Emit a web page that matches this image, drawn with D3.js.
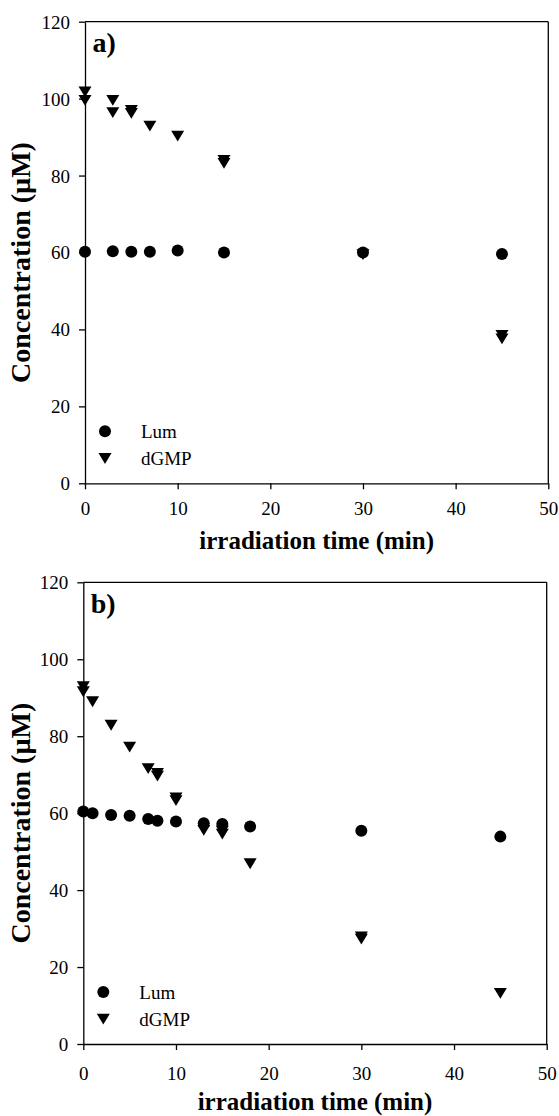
<!DOCTYPE html>
<html>
<head>
<meta charset="utf-8">
<script src="https://cdn.jsdelivr.net/npm/d3@7"></script>
<style>
  html, body { margin: 0; padding: 0; background: #fff; }
  svg { display: block; }
  text { font-family: "Liberation Serif", "Times New Roman", serif; fill: #000; }
</style>
</head>
<body>
<svg id="chart" width="559" height="1116"></svg>
<script>
// ---- data ----
const xTicks = [0, 10, 20, 30, 40, 50];
const yTicks = [0, 20, 40, 60, 80, 100, 120];
const seriesNames = ["Lum", "dGMP"];

// panel a
const aLumTime = [0, 3, 5, 7, 10, 15, 30, 45];
const aLumConc = [60.2, 60.3, 60.2, 60.2, 60.5, 60.0, 60.0, 59.6];
const aDgmpTime = [0, 0, 3, 3, 5, 5, 7, 10, 15, 15, 30, 45, 45];
const aDgmpConc = [101.8, 99.6, 99.6, 96.4, 97.0, 96.2, 92.9, 90.3, 84.0, 83.2, 59.5, 38.5, 37.6];

// panel b
const bLumTime = [0, 1, 3, 5, 7, 8, 10, 13, 15, 18, 30, 45];
const bLumConc = [60.4, 60.0, 59.5, 59.3, 58.5, 58.0, 57.8, 57.4, 57.2, 56.5, 55.4, 53.9];
const bDgmpTime = [0, 0, 1, 3, 5, 7, 8, 8, 10, 10, 13, 15, 15, 18, 30, 30, 45];
const bDgmpConc = [92.9, 91.6, 89.0, 82.9, 77.2, 71.6, 70.4, 69.7, 64.0, 63.3, 55.6, 55.4, 54.6, 46.9, 27.9, 27.3, 13.2];

const panels = [
  { label: "a)", left: 85, right: 548.3, top: 21.7, bottom: 483.3, tickOff: 28,
    lum: aLumTime.map((t, i) => ({ t, c: aLumConc[i] })),
    dgmp: aDgmpTime.map((t, i) => ({ t, c: aDgmpConc[i] })) },
  { label: "b)", left: 83.3, right: 546.7, top: 582.3, bottom: 1044, tickOff: 33,
    lum: bLumTime.map((t, i) => ({ t, c: bLumConc[i] })),
    dgmp: bDgmpTime.map((t, i) => ({ t, c: bDgmpConc[i] })) }
];

const svg = d3.select("#chart");
const tri = "M-6.5,-5.2L6.5,-5.2L0,5.6Z";

panels.forEach(p => {
  const x = d3.scaleLinear().domain([0, 50]).range([p.left, p.right]);
  const y = d3.scaleLinear().domain([0, 120]).range([p.bottom, p.top]);
  const g = svg.append("g");

  // box (top & right)
  g.append("line").attr("x1", p.left).attr("x2", p.right).attr("y1", p.top).attr("y2", p.top)
    .attr("stroke", "#000").attr("stroke-width", 1.3);
  g.append("line").attr("x1", p.right).attr("x2", p.right).attr("y1", p.top).attr("y2", p.bottom)
    .attr("stroke", "#000").attr("stroke-width", 1.3);

  // axes
  const xa = g.append("g").attr("transform", `translate(0,${p.bottom})`)
    .call(d3.axisBottom(x).tickValues(xTicks).tickSize(6).tickSizeOuter(0).tickPadding(p.tickOff - 16));
  const ya = g.append("g").attr("transform", `translate(${p.left},0)`)
    .call(d3.axisLeft(y).tickValues(yTicks).tickSize(6).tickSizeOuter(0).tickPadding(9));
  [xa, ya].forEach(a => {
    a.attr("font-family", null);
    a.select(".domain").attr("stroke", "#000").attr("stroke-width", 1.3);
    a.selectAll(".tick line").attr("stroke", "#000").attr("stroke-width", 1.3);
    a.selectAll(".tick text").attr("font-size", 19)
      .style("font-family", '"Liberation Serif", "Times New Roman", serif').attr("fill", "#000");
  });
  ya.selectAll(".tick text").attr("dy", "0.34em");

  // axis titles
  g.append("text").attr("x", (p.left + p.right) / 2).attr("y", p.bottom + 66)
    .attr("text-anchor", "middle").attr("font-size", 25).attr("font-weight", "bold")
    .text("irradiation time (min)");
  g.append("text").attr("transform", `translate(30,${(p.top + p.bottom) / 2 + 10}) rotate(-90)`)
    .attr("text-anchor", "middle").attr("font-size", 28).attr("font-weight", "bold")
    .text("Concentration (\u00B5M)");

  // panel label
  g.append("text").attr("x", p.left + 7.5).attr("y", p.top + 30.5)
    .attr("font-size", 28).attr("font-weight", "bold").text(p.label);

  // data
  g.selectAll("circle.lum").data(p.lum).join("circle").attr("class", "lum")
    .attr("cx", d => x(d.t)).attr("cy", d => y(d.c)).attr("r", 6).attr("fill", "#000");
  g.selectAll("path.dgmp").data(p.dgmp).join("path").attr("class", "dgmp")
    .attr("d", tri).attr("transform", d => `translate(${x(d.t)},${y(d.c)})`).attr("fill", "#000");

  // legend
  const lx = p.left + 20, ly = p.bottom - 52;
  g.append("circle").attr("cx", lx).attr("cy", ly).attr("r", 6).attr("fill", "#000");
  g.append("path").attr("d", tri).attr("transform", `translate(${lx},${ly + 27})`).attr("fill", "#000");
  g.append("text").attr("x", lx + 36).attr("y", ly + 7).attr("font-size", 19).text(seriesNames[0]);
  g.append("text").attr("x", lx + 36).attr("y", ly + 34).attr("font-size", 19).text(seriesNames[1]);
});
</script>
</body>
</html>
